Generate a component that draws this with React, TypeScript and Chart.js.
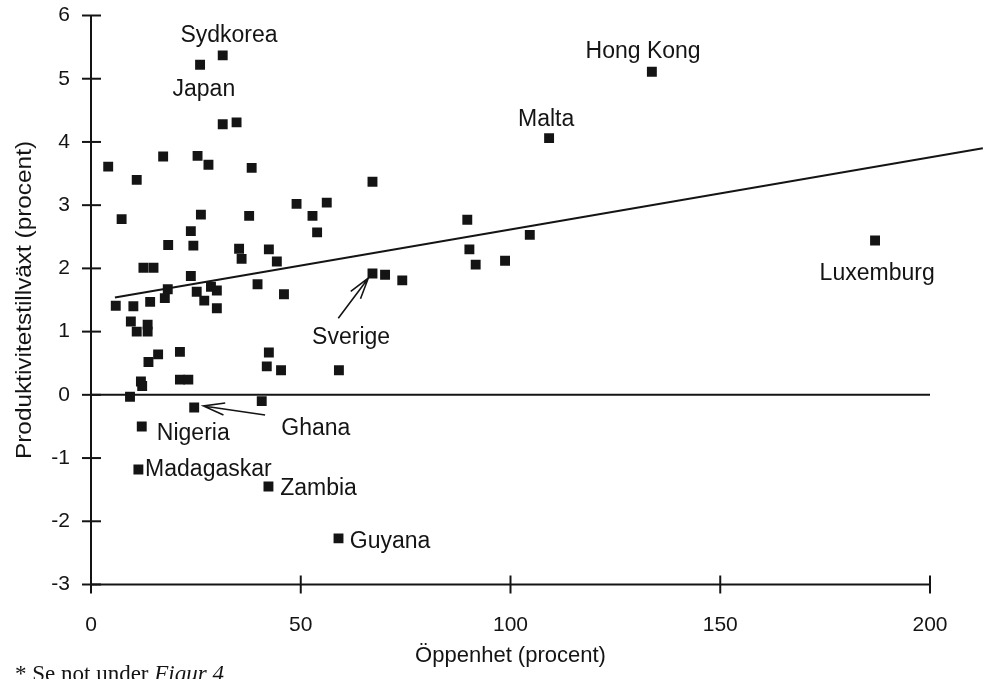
import { useEffect, useRef } from "react";
import { Chart, registerables } from "chart.js";

Chart.register(...registerables);

// Openness (x, percent) and productivity growth (y, percent) per country
const openness = [
  4.1, 7.3, 26.2, 37.7, 49.0, 56.2, 52.8, 53.9, 23.8, 18.4,
  24.4, 35.3, 42.4, 35.9, 44.3, 12.5, 14.9, 23.8, 67.1, 70.1,
  74.2, 39.7, 46.0, 18.3, 17.6, 25.2, 28.6, 30.0, 27.0, 30.0,
  5.9, 10.1, 14.1, 9.5, 10.9, 13.5, 13.5, 16.0, 13.7, 21.2,
  42.4, 41.9, 45.3, 59.1, 11.9, 12.2, 21.2, 23.2, 9.3, 24.6,
  40.7, 12.1, 31.4, 26.0, 31.4, 34.7, 17.2, 25.4, 28.0, 38.3,
  10.9, 67.1, 89.7, 90.2, 91.7, 98.7, 104.6, 109.2, 133.7, 186.9,
  11.3, 42.3, 59.0,
];
const growth = [
  3.61, 2.78, 2.85, 2.83, 3.02, 3.04, 2.83, 2.57, 2.59, 2.37,
  2.36, 2.31, 2.30, 2.15, 2.11, 2.01, 2.01, 1.88, 1.92, 1.90,
  1.81, 1.75, 1.59, 1.67, 1.53, 1.63, 1.71, 1.65, 1.49, 1.37,
  1.41, 1.40, 1.47, 1.16, 1.00, 1.00, 1.11, 0.64, 0.52, 0.68,
  0.67, 0.45, 0.39, 0.39, 0.21, 0.14, 0.24, 0.24, -0.03, -0.20,
  -0.10, -0.50, 5.37, 5.22, 4.28, 4.31, 3.77, 3.78, 3.64, 3.59,
  3.40, 3.37, 2.77, 2.30, 2.06, 2.12, 2.53, 4.06, 5.11, 2.44,
  -1.18, -1.45, -2.27,
];

// Fitted trend line (extends beyond the axis end)
const trendX = [5.7, 212.6];
const trendY = [1.54, 3.9];

// Zero reference line
const zeroX = [0, 200];
const zeroY = [0, 0];

const xTickValues = [0, 50, 100, 150, 200];
const yTickValues = [-3, -2, -1, 0, 1, 2, 3, 4, 5, 6];

// Country name annotations (anchor in data units)
const labelText = ["Sydkorea", "Japan", "Hong Kong", "Malta", "Luxemburg", "Sverige", "Ghana", "Nigeria", "Madagaskar", "Zambia", "Guyana"];
const labelX = [32.9, 26.9, 131.6, 108.5, 187.4, 62.0, 53.6, 15.7, 12.9, 45.1, 61.7];
const labelY = [5.68, 4.82, 5.43, 4.35, 1.92, 0.91, -0.53, -0.62, -1.18, -1.48, -2.32];
const labelAlign = ["center", "center", "center", "center", "center", "center", "center", "left", "left", "left", "left"];

// Arrows: tail -> head (data units)
const arrowTailX = [58.95, 41.5];
const arrowTailY = [1.21, -0.32];
const arrowHeadX = [66.1, 26.8];
const arrowHeadY = [1.845, -0.176];

const xTitle = "Öppenhet (procent)";
const yTitle = "Produktivitetstillväxt (procent)";
const footPlain = "* Se not under ";
const footItalic = "Figur 4";

const SANS = "'Liberation Sans', Arial, Helvetica, sans-serif";
const SERIF = "'Liberation Serif', 'Times New Roman', serif";
const INK = "#141414";

const decorPlugin = {
  id: "decor",
  afterDraw(chart: any) {
    const ctx = chart.ctx as CanvasRenderingContext2D;
    const xs = chart.scales.x;
    const ys = chart.scales.y;
    const ca = chart.chartArea;
    ctx.save();
    ctx.strokeStyle = INK;
    ctx.fillStyle = INK;
    ctx.lineWidth = 2;
    ctx.lineCap = "butt";

    // y axis
    const x0 = xs.getPixelForValue(0);
    const yTop = ys.getPixelForValue(6);
    const yBot = ys.getPixelForValue(-3);
    ctx.beginPath();
    ctx.moveTo(x0, yTop);
    ctx.lineTo(x0, yBot);
    ctx.stroke();
    yTickValues.forEach((v) => {
      const p = ys.getPixelForValue(v);
      ctx.beginPath();
      ctx.moveTo(x0 - 9, p);
      ctx.lineTo(x0 + 10, p);
      ctx.stroke();
    });
    // x axis
    const xEnd = xs.getPixelForValue(200);
    ctx.beginPath();
    ctx.moveTo(x0, yBot);
    ctx.lineTo(xEnd, yBot);
    ctx.stroke();
    xTickValues.forEach((v) => {
      const p = xs.getPixelForValue(v);
      ctx.beginPath();
      ctx.moveTo(p, yBot - 9);
      ctx.lineTo(p, yBot + 9);
      ctx.stroke();
    });

    // country labels
    ctx.font = `23px ${SANS}`;
    ctx.textBaseline = "middle";
    labelText.forEach((t, i) => {
      ctx.textAlign = labelAlign[i] as CanvasTextAlign;
      ctx.fillText(t, xs.getPixelForValue(labelX[i]), ys.getPixelForValue(labelY[i]));
    });

    // arrows
    ctx.lineWidth = 1.6;
    arrowTailX.forEach((_, i) => {
      const tx = xs.getPixelForValue(arrowTailX[i]);
      const ty = ys.getPixelForValue(arrowTailY[i]);
      const hx = xs.getPixelForValue(arrowHeadX[i]);
      const hy = ys.getPixelForValue(arrowHeadY[i]);
      const ang = Math.atan2(hy - ty, hx - tx);
      const len = 22;
      const spread = 0.28;
      ctx.beginPath();
      ctx.moveTo(tx, ty);
      ctx.lineTo(hx, hy);
      ctx.moveTo(hx - len * Math.cos(ang - spread), hy - len * Math.sin(ang - spread));
      ctx.lineTo(hx, hy);
      ctx.lineTo(hx - len * Math.cos(ang + spread), hy - len * Math.sin(ang + spread));
      ctx.stroke();
    });

    // x title
    ctx.font = `22px ${SANS}`;
    ctx.textAlign = "center";
    ctx.textBaseline = "middle";
    ctx.fillText(xTitle, (ca.left + ca.right) / 2, 656);

    // y title (condensed)
    ctx.save();
    ctx.translate(25, (ca.top + ca.bottom) / 2);
    ctx.rotate(-Math.PI / 2);
    ctx.font = `22px ${SANS}`;
    const w = ctx.measureText(yTitle).width;
    ctx.scale(318 / w, 1);
    ctx.textAlign = "center";
    ctx.textBaseline = "middle";
    ctx.fillText(yTitle, 0, 0);
    ctx.restore();

    // footnote
    ctx.textAlign = "left";
    ctx.textBaseline = "alphabetic";
    ctx.font = `23px ${SERIF}`;
    ctx.fillText(footPlain, 15, 681);
    const fw = ctx.measureText(footPlain).width;
    ctx.font = `italic 23px ${SERIF}`;
    ctx.fillText(footItalic, 15 + fw, 681);

    ctx.restore();
  },
};

export default function App() {
  const ref = useRef<HTMLCanvasElement | null>(null);

  useEffect(() => {
    if (!ref.current) return;
    const points = openness.map((x, i) => ({ x, y: growth[i] }));
    const trend = trendX.map((x, i) => ({ x, y: trendY[i] }));
    const zero = zeroX.map((x, i) => ({ x, y: zeroY[i] }));
    const chart = new Chart(ref.current, {
      type: "scatter",
      data: {
        datasets: [
          {
            type: "line",
            data: trend,
            borderColor: INK,
            borderWidth: 2,
            pointRadius: 0,
            fill: false,
            clip: false as any,
            order: 2,
          } as any,
          {
            type: "line",
            data: zero,
            borderColor: INK,
            borderWidth: 2,
            pointRadius: 0,
            fill: false,
            order: 2,
          } as any,
          {
            type: "scatter",
            data: points,
            pointStyle: "rect",
            pointRadius: 7,
            pointHoverRadius: 7,
            backgroundColor: INK,
            borderWidth: 0,
            order: 1,
          },
        ],
      },
      options: {
        responsive: false,
        animation: false,
        events: [],
        layout: { padding: { top: 15.5, right: 53, left: 0, bottom: 0 } },
        plugins: {
          legend: { display: false },
          tooltip: { enabled: false },
          title: { display: false },
        },
        scales: {
          x: {
            type: "linear",
            min: 0,
            max: 200,
            grid: { display: false, drawTicks: false },
            border: { display: false },
            afterBuildTicks: (s: any) => {
              s.ticks = xTickValues.map((v) => ({ value: v }));
            },
            afterFit: (s: any) => {
              s.height = 94.5;
            },
            ticks: {
              padding: 28,
              color: INK,
              font: { family: SANS, size: 21 },
            },
          },
          y: {
            type: "linear",
            min: -3,
            max: 6,
            grid: { display: false, drawTicks: false },
            border: { display: false },
            afterBuildTicks: (s: any) => {
              s.ticks = yTickValues.map((v) => ({ value: v }));
            },
            afterFit: (s: any) => {
              s.width = 91;
              s.paddingTop = 0;
              s.paddingBottom = 0;
            },
            ticks: {
              padding: 21,
              color: INK,
              font: { family: SANS, size: 21 },
            },
          },
        },
      },
      plugins: [decorPlugin],
    });
    return () => chart.destroy();
  }, []);

  return (
    <div style={{ position: "absolute", left: 0, top: 0, width: 983, height: 679, background: "#fff" }}>
      <canvas ref={ref} width={983} height={679} style={{ display: "block" }} />
    </div>
  );
}
